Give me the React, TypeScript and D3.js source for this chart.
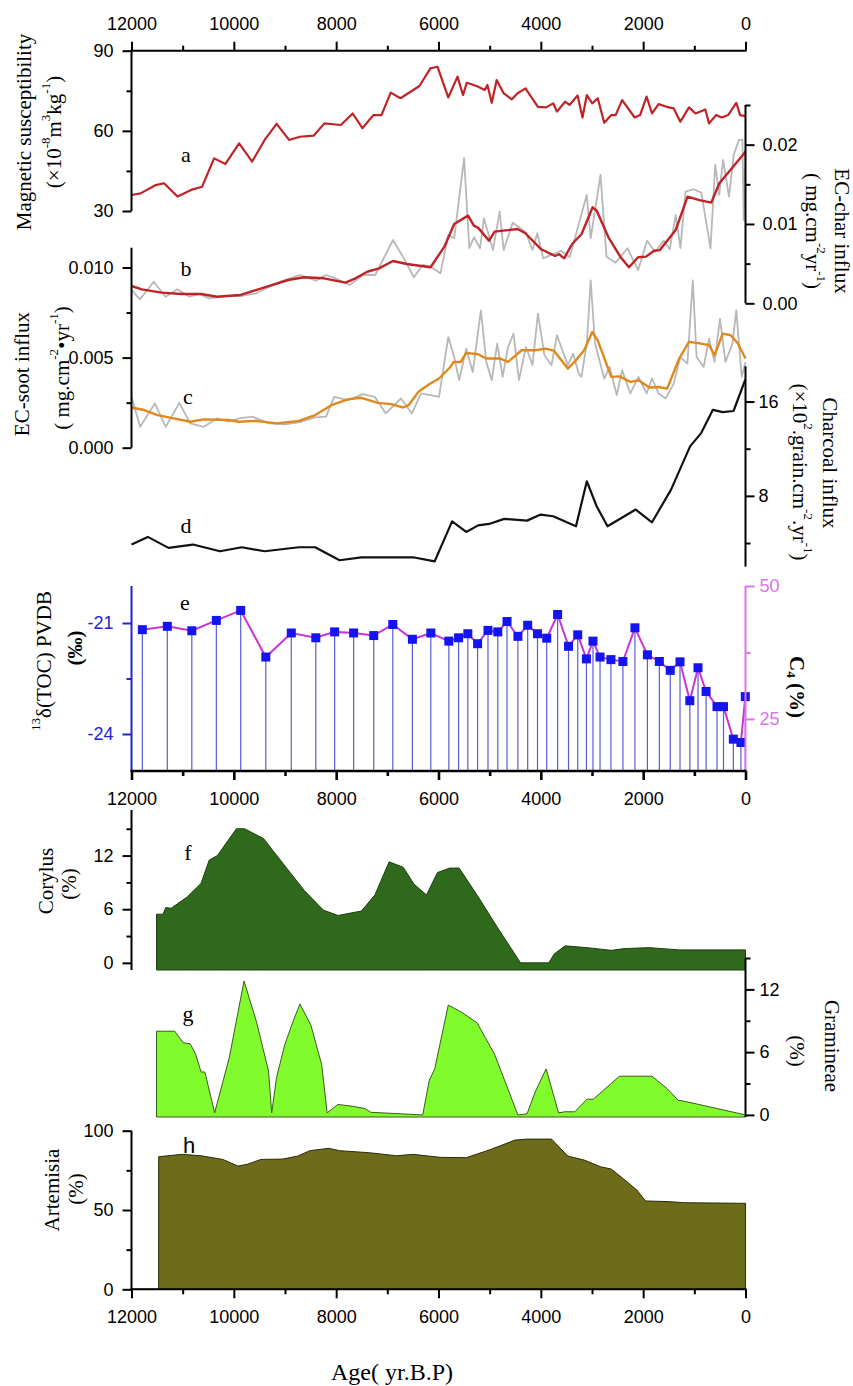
import React, { useEffect, useRef } from "react";
import * as d3 from "d3";

type Pt = [number, number];

// a: magnetic susceptibility (x10^-8 m3/kg)
const magSusceptibility: Pt[] = [
  [12000, 36], [11823, 36.6], [11525, 39.7], [11366, 40.4], [11100, 35.4], [10835, 37.9],
  [10620, 39.1], [10386, 49.7], [10163, 47.6], [9897, 55.3], [9642, 48.5], [9398, 56.6],
  [9164, 62.6], [8920, 56.6], [8708, 57.8], [8442, 58.2], [8230, 62.8], [7910, 62.2],
  [7677, 66.5], [7487, 61], [7274, 65.9], [7115, 65.9], [6934, 74.3], [6743, 72.2],
  [6372, 76.8], [6159, 83.4], [6021, 84], [5809, 72.5], [5628, 80.3], [5522, 73.4],
  [5447, 78], [5256, 76.8], [5097, 75.3], [5044, 77.2], [4959, 70.5], [4863, 79],
  [4725, 74], [4566, 71.8], [4460, 74], [4300, 75.9], [4057, 69], [3897, 68.8],
  [3759, 70.3], [3685, 67.2], [3526, 70.9], [3441, 69.7], [3281, 73.2], [3186, 65],
  [3101, 73.4], [2995, 70.3], [2888, 72.2], [2761, 63], [2623, 65.9], [2538, 65.9],
  [2411, 71.5], [2166, 65], [2060, 65.9], [1933, 72.8], [1827, 66.5], [1699, 70],
  [1540, 69], [1402, 68.4], [1274, 63.4], [1104, 68.8], [977, 66.5], [786, 68],
  [712, 62.8], [573, 65.9], [467, 65], [340, 65.9], [180, 70.5], [106, 65.9], [0, 65.5],
];

// b: EC-char influx, raw and smoothed
const ecCharRaw: Pt[] = [
  [12000, 0.00168], [11836, 0.0005], [11566, 0.00272], [11334, 0.00083], [11103, 0.00176],
  [10871, 0.00083], [10677, 0.00117], [10484, 0.00063], [10175, 0.00092], [9866, 0.00092],
  [9557, 0.00126], [9093, 0.00272], [8706, 0.00357], [8396, 0.00285], [8203, 0.00357],
  [8011, 0.00315], [7739, 0.00231], [7469, 0.00357], [7237, 0.00357], [6889, 0.00798],
  [6697, 0.00588], [6481, 0.00328], [6311, 0.00483], [6156, 0.00462], [5963, 0.00378],
  [5808, 0.00861], [5693, 0.00819], [5500, 0.0183], [5398, 0.00694], [5306, 0.00832],
  [5189, 0.00694], [5111, 0.0107], [4935, 0.00672], [4804, 0.01155], [4726, 0.00672],
  [4550, 0.01016], [4302, 0.00903], [4163, 0.00672], [4069, 0.00883], [3954, 0.00567],
  [3606, 0.00663], [3436, 0.0058], [3104, 0.01366], [3025, 0.0082], [2834, 0.0162],
  [2717, 0.00588], [2539, 0.00512], [2308, 0.00694], [2099, 0.0042], [1921, 0.0079],
  [1767, 0.00646], [1597, 0.0079], [1481, 0.00681], [1364, 0.01113], [1272, 0.00695],
  [1172, 0.01407], [1016, 0.01438], [863, 0.01396], [684, 0.0069], [592, 0.01744],
  [514, 0.01366], [438, 0.01807], [322, 0.01344], [230, 0.0187], [130, 0.0206],
  [60, 0.0206], [35, 0.0105], [0, 0.0195],
];
const ecCharSmooth: Pt[] = [
  [12000, 0.00218], [11797, 0.00176], [11412, 0.00134], [11025, 0.00117], [10638, 0.00117],
  [10331, 0.00083], [9866, 0.00105], [9402, 0.00202], [8937, 0.00294], [8628, 0.00328],
  [8241, 0.00315], [7817, 0.0026], [7624, 0.00315], [7393, 0.00398], [7161, 0.00441],
  [6889, 0.00533], [6619, 0.00496], [6156, 0.00454], [5885, 0.00714], [5693, 0.01],
  [5422, 0.01105], [5306, 0.00975], [5228, 0.00954], [5013, 0.0079], [4903, 0.00903],
  [4456, 0.00937], [4302, 0.00883], [3993, 0.00681], [3721, 0.00596], [3645, 0.0062],
  [3544, 0.00567], [3389, 0.00748], [3203, 0.00874], [2988, 0.0121], [2910, 0.0117],
  [2679, 0.00832], [2447, 0.00588], [2277, 0.00454], [2099, 0.0058], [1944, 0.00588],
  [1788, 0.00663], [1673, 0.00671], [1364, 0.00924], [1133, 0.01344], [901, 0.013],
  [669, 0.01269], [514, 0.0151], [0, 0.0191],
];

// c: EC-soot influx, raw and smoothed
const ecSootRaw: Pt[] = [
  [12000, 0.00282], [11830, 0.00116], [11543, 0.00246], [11331, 0.00116], [11065, 0.00249],
  [10852, 0.00135], [10587, 0.00116], [10322, 0.00163], [10110, 0.00144], [9897, 0.00163],
  [9631, 0.00172], [9313, 0.00135], [8995, 0.00129], [8676, 0.00144], [8411, 0.00168],
  [8198, 0.00172], [8039, 0.00282], [7774, 0.00264], [7476, 0.00297], [7242, 0.00282],
  [7030, 0.0019], [6733, 0.00273], [6520, 0.0019], [6340, 0.00301], [5990, 0.00282],
  [5809, 0.00614], [5703, 0.00513], [5596, 0.00375], [5458, 0.0055], [5331, 0.0042],
  [5172, 0.00762], [5066, 0.00476], [4959, 0.00375], [4853, 0.00578], [4747, 0.00393],
  [4641, 0.00559], [4534, 0.00633], [4428, 0.00375], [4290, 0.00559], [4163, 0.00458],
  [4057, 0.00744], [3929, 0.00513], [3791, 0.00458], [3685, 0.00624], [3473, 0.00458],
  [3367, 0.00522], [3260, 0.00412], [3207, 0.00393], [3101, 0.00578], [3026, 0.00928],
  [2941, 0.00578], [2761, 0.00384], [2655, 0.00448], [2517, 0.00292], [2411, 0.0043],
  [2251, 0.00301], [2092, 0.00393], [1933, 0.00301], [1827, 0.00384], [1699, 0.00301],
  [1561, 0.00273], [1402, 0.00356], [1274, 0.00503], [1136, 0.00467], [1030, 0.00928],
  [956, 0.00503], [818, 0.00448], [712, 0.00605], [605, 0.00476], [499, 0.00716],
  [393, 0.00476], [255, 0.00578], [180, 0.00762], [74, 0.00393], [0, 0.00476],
];
const ecSootSmooth: Pt[] = [
  [12000, 0.00223], [11755, 0.00209], [11490, 0.00181], [11277, 0.00168], [10852, 0.00144],
  [10587, 0.00157], [10110, 0.00154], [9897, 0.00144], [9578, 0.00149], [9154, 0.00135],
  [8729, 0.00149], [8411, 0.00181], [8092, 0.00236], [7774, 0.00268], [7508, 0.00277],
  [7189, 0.00249], [6924, 0.00242], [6690, 0.00223], [6584, 0.00236], [6393, 0.0031],
  [6181, 0.00352], [5990, 0.00384], [5777, 0.00445], [5703, 0.00476], [5565, 0.00476],
  [5458, 0.00526], [5225, 0.00519], [5066, 0.00495], [4800, 0.00495], [4641, 0.00476],
  [4375, 0.00541], [4110, 0.00541], [3897, 0.0055], [3738, 0.00537], [3473, 0.00439],
  [3313, 0.00485], [3154, 0.00541], [2995, 0.00642], [2888, 0.00596], [2623, 0.00393],
  [2464, 0.00396], [2251, 0.00365], [2092, 0.00374], [1880, 0.00334], [1699, 0.00337],
  [1530, 0.00328], [1296, 0.00495], [1104, 0.00587], [871, 0.00578], [712, 0.00569],
  [605, 0.00513], [446, 0.00633], [287, 0.00624], [149, 0.00578], [0, 0.00495],
];

// d: charcoal influx (x10^2 grain/cm2/yr)
const charcoal: Pt[] = [
  [12000, 3.87], [11681, 4.52], [11277, 3.59], [10799, 3.87], [10269, 3.3], [9844, 3.64],
  [9398, 3.3], [8729, 3.64], [8411, 3.64], [7933, 2.54], [7508, 2.79], [6499, 2.79],
  [6074, 2.45], [5734, 5.84], [5458, 4.94], [5225, 5.5], [5012, 5.62], [4715, 6.05],
  [4269, 5.9], [4004, 6.41], [3759, 6.27], [3313, 5.42], [3101, 9.24], [2909, 7.12],
  [2697, 5.42], [2145, 6.84], [1827, 5.76], [1455, 8.53], [1083, 12.2], [871, 13.3],
  [637, 15.3], [446, 15.1], [234, 15.2], [0, 17.9],
];

// e: d13C of TOC (permil)
const d13C: Pt[] = [
  [11788, -21.18], [11300, -21.09], [10821, -21.21], [10342, -20.93], [9866, -20.66],
  [9375, -21.92], [8877, -21.27], [8398, -21.4], [8030, -21.24], [7659, -21.27],
  [7266, -21.34], [6893, -21.04], [6510, -21.44], [6150, -21.27], [5798, -21.49],
  [5607, -21.4], [5427, -21.29], [5236, -21.56], [5033, -21.2], [4841, -21.24],
  [4661, -20.96], [4448, -21.36], [4257, -21.06], [4065, -21.29], [3885, -21.41],
  [3672, -20.77], [3459, -21.63], [3279, -21.32], [3109, -21.97], [2981, -21.49],
  [2843, -21.92], [2630, -21.99], [2396, -22.04], [2161, -21.13], [1917, -21.86],
  [1684, -22.04], [1471, -22.28], [1280, -22.05], [1088, -23.1], [928, -22.21],
  [770, -22.85], [557, -23.26], [430, -23.26], [238, -24.14], [90, -24.23], [4, -22.99],
];

// f, g, h: pollen percentages
const corylus: Pt[] = [
  [11511, 5.44], [11384, 5.44], [11331, 6.19], [11225, 6.1], [10906, 7.4], [10640, 8.9],
  [10481, 11.5], [10322, 12], [9950, 15], [9790, 15], [9419, 13.9], [8941, 10.4],
  [8623, 8.1], [8251, 5.9], [7964, 5.3], [7508, 5.8], [7242, 7.6], [6966, 11.3],
  [6690, 10.7], [6478, 8.8], [6234, 7.6], [6021, 10.1], [5777, 10.6], [5596, 10.6],
  [5225, 7.4], [4853, 4], [4396, 0], [3844, 0], [3738, 1], [3526, 1.9], [3101, 1.7],
  [2623, 1.4], [2357, 1.6], [1880, 1.7], [1296, 1.45], [0, 1.45],
];
const gramineae: Pt[] = [
  [11511, 8], [11154, 8], [10991, 6.9], [10853, 6.8], [10747, 5.8], [10640, 4.1],
  [10566, 4.1], [10375, 0.2], [10088, 5.5], [9801, 12.8], [9557, 8.9], [9323, 4.2],
  [9260, 0.2], [9164, 3.6], [9005, 6.7], [8846, 8.9], [8708, 10.6], [8495, 8.6],
  [8283, 4.8], [8177, 0.2], [7964, 1], [7645, 0.8], [7433, 0.6], [7327, 0.25],
  [6308, 0], [6181, 3.3], [6074, 4.4], [5809, 10.5], [5543, 9.8], [5246, 8.8],
  [4905, 5.8], [4449, 0], [4269, 0.1], [4110, 2.2], [3897, 4.4], [3653, 0.2],
  [3526, 0.3], [3335, 0.3], [3101, 1.5], [2974, 1.5], [2464, 3.7], [1827, 3.7],
  [1530, 2.5], [1317, 1.4], [1189, 1.3], [0, 0],
];
const artemisia: Pt[] = [
  [12000, 0], [11470, 0], [11469, 83.6], [11012, 85.1], [10640, 84.2], [10216, 81.9],
  [9918, 77.7], [9738, 78.8], [9472, 81.9], [9048, 82.1], [8750, 84], [8517, 87.4],
  [8145, 88.9], [7932, 87.4], [7348, 86.1], [6818, 84.2], [6499, 85.1], [5968, 83.2],
  [5458, 83], [5012, 87.8], [4503, 94.1], [4269, 94.7], [3791, 94.7], [3473, 84],
  [3154, 81.5], [2835, 77.3], [2623, 75.8], [2357, 68.9], [2124, 62.6], [1954, 55.7],
  [1508, 55.3], [1189, 54.6], [0, 54.2],
];

const ageMajor = [12000, 10000, 8000, 6000, 4000, 2000, 0];
const ageMinor = [11000, 9000, 7000, 5000, 3000, 1000];

const SANS = "'Liberation Sans', Arial, Helvetica, sans-serif";
const SERIF = "'Liberation Serif', 'Times New Roman', Times, serif";
const BLUE = "#2323d2";
const VIOLET = "#dc74ea";

const rich = (s: string) => {
  const parts: { t: string; k: string }[] = [];
  const re = /\^\{([^}]*)\}|_\{([^}]*)\}|([^^_]+)/g;
  let m: RegExpExecArray | null;
  while ((m = re.exec(s))) {
    if (m[1] !== undefined) parts.push({ t: m[1], k: "sup" });
    else if (m[2] !== undefined) parts.push({ t: m[2], k: "sub" });
    else parts.push({ t: m[3], k: "n" });
  }
  return parts;
};

function title(parent: any, x: number, y: number, rot: number, s: string, size = 21, weight = "normal") {
  const t = parent
    .append("text")
    .attr("transform", `translate(${x},${y}) rotate(${rot})`)
    .attr("text-anchor", "middle")
    .attr("dominant-baseline", "central")
    .style("font-family", SERIF)
    .style("font-size", `${size}px`)
    .style("font-weight", weight)
    .attr("fill", "#000");
  let shift = 0;
  rich(s).forEach((p) => {
    const target = p.k === "sup" ? -0.42 * size : p.k === "sub" ? 0.25 * size : 0;
    t.append("tspan")
      .attr("dy", target - shift)
      .style("font-size", p.k === "n" ? `${size}px` : `${size * 0.62}px`)
      .text(p.t);
    shift = target;
  });
}

function drawAxis(
  parent: any,
  orient: string,
  at: number,
  scale: any,
  majors: number[],
  minors: number[],
  fmt: (d: any) => string,
  color = "#000",
  pad = 9,
  width = 2
) {
  const make: any =
    orient === "left" ? d3.axisLeft : orient === "right" ? d3.axisRight : orient === "top" ? d3.axisTop : d3.axisBottom;
  const vertical = orient === "left" || orient === "right";
  const g = parent.append("g").attr("transform", vertical ? `translate(${at},0)` : `translate(0,${at})`);
  g.append("g").call(make(scale).tickValues(minors).tickSize(5).tickSizeOuter(0).tickFormat(() => ""));
  g.append("g").call(make(scale).tickValues(majors).tickSize(9).tickSizeOuter(0).tickPadding(pad).tickFormat(fmt));
  g.selectAll(".domain").remove();
  const [r0, r1] = scale.range();
  if (vertical) g.append("line").attr("x1", 0).attr("x2", 0).attr("y1", r0).attr("y2", r1);
  else g.append("line").attr("y1", 0).attr("y2", 0).attr("x1", r0 - 1).attr("x2", r1 + 1);
  g.selectAll("line").attr("stroke", color).attr("stroke-width", width);
  g.selectAll("text").attr("fill", color).style("font-family", SANS).style("font-size", "18px");
}

const App = () => {
  const ref = useRef<SVGSVGElement>(null);

  useEffect(() => {
    const svg = d3.select(ref.current);
    svg.selectAll("*").remove();

    const x = d3.scaleLinear().domain([12000, 0]).range([131.5, 745.5]);
    const yA = d3.scaleLinear().domain([30, 90]).range([211, 50.7]);
    const yB = d3.scaleLinear().domain([0, 0.025]).range([303.3, 105]);
    const yC = d3.scaleLinear().domain([0, 0.0111]).range([447.7, 247.7]);
    const yD = d3.scaleLinear().domain([2, 19]).range([566.6, 366.2]);
    const yE = d3.scaleLinear().domain([-25, -20]).range([771, 586]);
    const yE4 = d3.scaleLinear().domain([15.2, 50]).range([771, 586]);
    const yF = d3.scaleLinear().domain([-0.8, 17.1]).range([970, 810]);
    const yG = d3.scaleLinear().domain([-0.2, 15]).range([1117, 958]);
    const yH = d3.scaleLinear().domain([0, 100]).range([1289.3, 1130.7]);

    const lineOf = (ys: any) => d3.line<Pt>().x((d) => x(d[0])).y((d) => ys(d[1]));
    const areaOf = (ys: any) =>
      d3.area<Pt>().x((d) => x(d[0])).y0(ys.range()[0]).y1((d) => ys(d[1]));

    // pollen areas
    const areas: [Pt[], any, string, string][] = [
      [corylus, yF, "#2f691b", "#1d3f0f"],
      [gramineae, yG, "#80fc2c", "#3d5a1c"],
      [artemisia, yH, "#6c6c1b", "#2c2c08"],
    ];
    areas.forEach(([data, ys, fill, stroke]) => {
      svg.append("path").attr("d", areaOf(ys)(data)).attr("fill", fill).attr("stroke", stroke).attr("stroke-width", 1);
    });

    // e: stems, line, squares
    svg
      .append("g")
      .selectAll("line")
      .data(d13C)
      .join("line")
      .attr("x1", (d) => x(d[0]))
      .attr("x2", (d) => x(d[0]))
      .attr("y1", (d) => yE(d[1]))
      .attr("y2", yE(-25))
      .attr("stroke", "#5b5bd8")
      .attr("stroke-width", 1.2);
    svg.append("path").attr("d", lineOf(yE)(d13C)).attr("fill", "none").attr("stroke", "#c934d6").attr("stroke-width", 2);
    svg
      .append("g")
      .selectAll("rect")
      .data(d13C)
      .join("rect")
      .attr("x", (d) => x(d[0]) - 4.5)
      .attr("y", (d) => yE(d[1]) - 4.5)
      .attr("width", 9)
      .attr("height", 9)
      .attr("fill", "#1414f0");

    // gray raw series
    const lines: [Pt[], any, string, number][] = [
      [ecSootRaw, yC, "#b8b8b8", 1.8],
      [ecCharRaw, yB, "#b8b8b8", 1.8],
      [magSusceptibility, yA, "#bf2327", 2.2],
      [ecCharSmooth, yB, "#bf2327", 2.4],
      [ecSootSmooth, yC, "#e0881c", 2.4],
      [charcoal, yD, "#111", 2.2],
    ];
    lines.forEach(([data, ys, color, w]) => {
      svg.append("path").attr("d", lineOf(ys)(data)).attr("fill", "none").attr("stroke", color).attr("stroke-width", w).attr("stroke-linejoin", "round");
    });

    // axes
    const num = (d: any) => String(d);
    drawAxis(svg, "top", 50.7, x, ageMajor, ageMinor, num, "#000", 12);
    drawAxis(svg, "left", 131.5, yA, [30, 60, 90], [45, 75], num);
    drawAxis(svg, "left", 131.5, yC, [0, 0.005, 0.01], [0.0025, 0.0075], d3.format(".3f"));
    drawAxis(svg, "right", 745.5, yB, [0, 0.01, 0.02], [0.005, 0.015, 0.025], d3.format(".2f"), "#000", 8);
    drawAxis(svg, "right", 745.5, yD, [8, 16], [4, 12], num, "#000", 4);
    drawAxis(svg, "left", 131.5, yE, [-24, -21], [-22.5], num, BLUE);
    drawAxis(svg, "right", 745.5, yE4, [25, 50], [37.5], num, VIOLET, 5);
    drawAxis(svg, "bottom", 771, x, ageMajor, ageMinor, num, "#000", 12, 2.6);
    drawAxis(svg, "left", 131.5, yF, [0, 6, 12], [3, 9, 15], num);
    drawAxis(svg, "right", 745.5, yG, [0, 6, 12], [3, 9, 15], num, "#000", 5);
    drawAxis(svg, "left", 131.5, yH, [0, 50, 100], [25, 75], num);
    drawAxis(svg, "bottom", 1289.3, x, ageMajor, ageMinor, num, "#000", 12);

    // axis titles
    title(svg, 24, 132, -90, "Magnetic susceptibility");
    title(svg, 54, 132, -90, "(×10^{-8}m^{3}kg^{-1})");
    title(svg, 842, 231, 90, "EC-char influx");
    title(svg, 813, 231, 90, "( mg.cm^{-2}yr^{-1})");
    title(svg, 22, 374, -90, "EC-soot influx");
    title(svg, 62, 368, -90, "( mg.cm^{-2}•yr^{-1})");
    title(svg, 830, 463, 90, "Charcoal  influx");
    title(svg, 800, 472, 90, "(×10^{2}.grain.cm^{-2}.yr^{-1})");
    title(svg, 44, 661, -90, "^{13}δ(TOC) PVDB");
    title(svg, 75, 648, -90, "(‰)", 21, "bold");
    title(svg, 797, 687, 90, "C_{4} (%)", 21, "bold");
    title(svg, 46, 881, -90, "Corylus");
    title(svg, 69, 884, -90, "(%)");
    title(svg, 832, 1046, 90, "Gramineae");
    title(svg, 797, 1051, 90, "(%)");
    title(svg, 52, 1190, -90, "Artemisia");
    title(svg, 76, 1189, -90, "(%)");
    title(svg, 392, 1372, 0, "Age( yr.B.P)", 24);

    // panel letters
    const letters: [string, number, number, string][] = [
      ["a", 186, 154, SERIF], ["b", 186, 268, SERIF], ["c", 188, 396, SERIF], ["d", 186, 525, SERIF],
      ["e", 185, 602, SERIF], ["f", 188, 852, SERIF], ["g", 188, 1013, SERIF], ["h", 189, 1145, SANS],
    ];
    letters.forEach(([s, lx, ly, ff]) => {
      svg.append("text").attr("x", lx).attr("y", ly).attr("text-anchor", "middle").attr("dominant-baseline", "central")
        .style("font-family", ff).style("font-size", "22px").text(s);
    });
  }, []);

  return (
    <div style={{ position: "absolute", left: 0, top: 0, background: "#fff" }}>
      <svg ref={ref} width={853} height={1386} style={{ display: "block", background: "#fff" }} />
    </div>
  );
};

export default App;
